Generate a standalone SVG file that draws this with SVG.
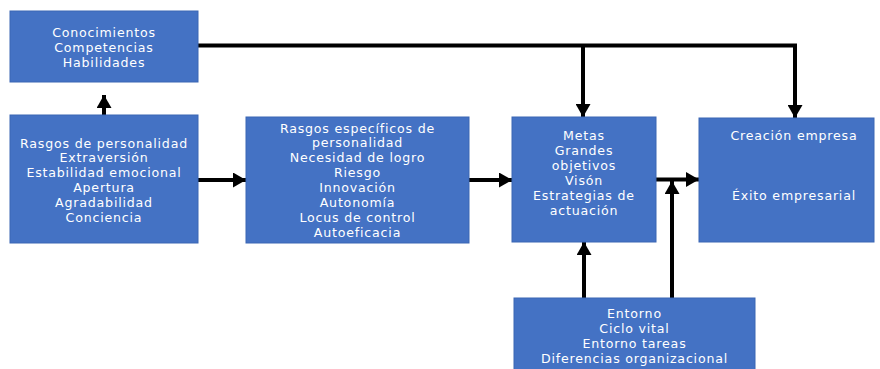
<svg xmlns="http://www.w3.org/2000/svg" width="880" height="369" viewBox="0 0 880 369">
<style>
.box{fill:#4472C4;stroke:#3A66B4;stroke-width:1}
.t{font-family:"DejaVu Sans","Liberation Sans",sans-serif;font-size:12.6px;letter-spacing:0.8px;fill:#FFFFFF;text-anchor:middle}
.c{fill:none;stroke:#000000;stroke-width:4}
</style>
<defs>
<marker id="ah" markerUnits="userSpaceOnUse" markerWidth="13" markerHeight="15" refX="13" refY="7.5" orient="auto">
<path d="M0,0 L13,7.5 L0,15 z" fill="#000000"/>
</marker>
</defs>
<g id="connectors">
<path class="c" d="M104,115 L104,95" marker-end="url(#ah)"/>
<path class="c" d="M198,45.5 L795,45.5 L795,118" marker-end="url(#ah)"/>
<path class="c" d="M583,45.5 L583,117" marker-end="url(#ah)"/>
<path class="c" d="M198,180 L246,180" marker-end="url(#ah)"/>
<path class="c" d="M469,180 L512,180" marker-end="url(#ah)"/>
<path class="c" d="M656,179.5 L699,179.5" marker-end="url(#ah)"/>
<path class="c" d="M584,298 L584,242" marker-end="url(#ah)"/>
<path class="c" d="M672,298 L672,181" marker-end="url(#ah)"/>
</g>
<g id="n1">
<rect class="box" x="10" y="11" width="188" height="71"/>
<text class="t" x="104" y="37">Conocimientos</text>
<text class="t" x="104" y="51.7">Competencias</text>
<text class="t" x="104" y="66.5">Habilidades</text>
</g>
<g id="n2">
<rect class="box" x="10" y="115" width="188" height="128"/>
<text class="t" x="104" y="147.5">Rasgos de personalidad</text>
<text class="t" x="104" y="162.3">Extraversión</text>
<text class="t" x="104" y="177.1">Estabilidad emocional</text>
<text class="t" x="104" y="191.9">Apertura</text>
<text class="t" x="104" y="206.7">Agradabilidad</text>
<text class="t" x="104" y="221.5">Conciencia</text>
</g>
<g id="n3">
<rect class="box" x="246" y="117" width="223" height="126"/>
<text class="t" x="357.5" y="132.5">Rasgos específicos de</text>
<text class="t" x="357.5" y="147.4">personalidad</text>
<text class="t" x="357.5" y="162.2">Necesidad de logro</text>
<text class="t" x="357.5" y="177.1">Riesgo</text>
<text class="t" x="357.5" y="191.9">Innovación</text>
<text class="t" x="357.5" y="206.8">Autonomía</text>
<text class="t" x="357.5" y="221.6">Locus de control</text>
<text class="t" x="357.5" y="236.5">Autoeficacia</text>
</g>
<g id="n4">
<rect class="box" x="512" y="117" width="144" height="125"/>
<text class="t" x="584" y="139.8">Metas</text>
<text class="t" x="584" y="154.8">Grandes</text>
<text class="t" x="584" y="169.8">objetivos</text>
<text class="t" x="584" y="184.8">Visón</text>
<text class="t" x="584" y="199.8">Estrategias de</text>
<text class="t" x="584" y="214.8">actuación</text>
</g>
<g id="n5">
<rect class="box" x="699" y="118" width="175" height="124"/>
<text class="t" x="794" y="139.8">Creación empresa</text>
<text class="t" x="794" y="199.8">Éxito empresarial</text>
</g>
<g id="n6">
<rect class="box" x="514" y="298" width="241" height="75"/>
<text class="t" x="634.5" y="317.5">Entorno</text>
<text class="t" x="634.5" y="332.5">Ciclo vital</text>
<text class="t" x="634.5" y="347.5">Entorno tareas</text>
<text class="t" x="634.5" y="362.5">Diferencias organizacional</text>
</g>
</svg>
